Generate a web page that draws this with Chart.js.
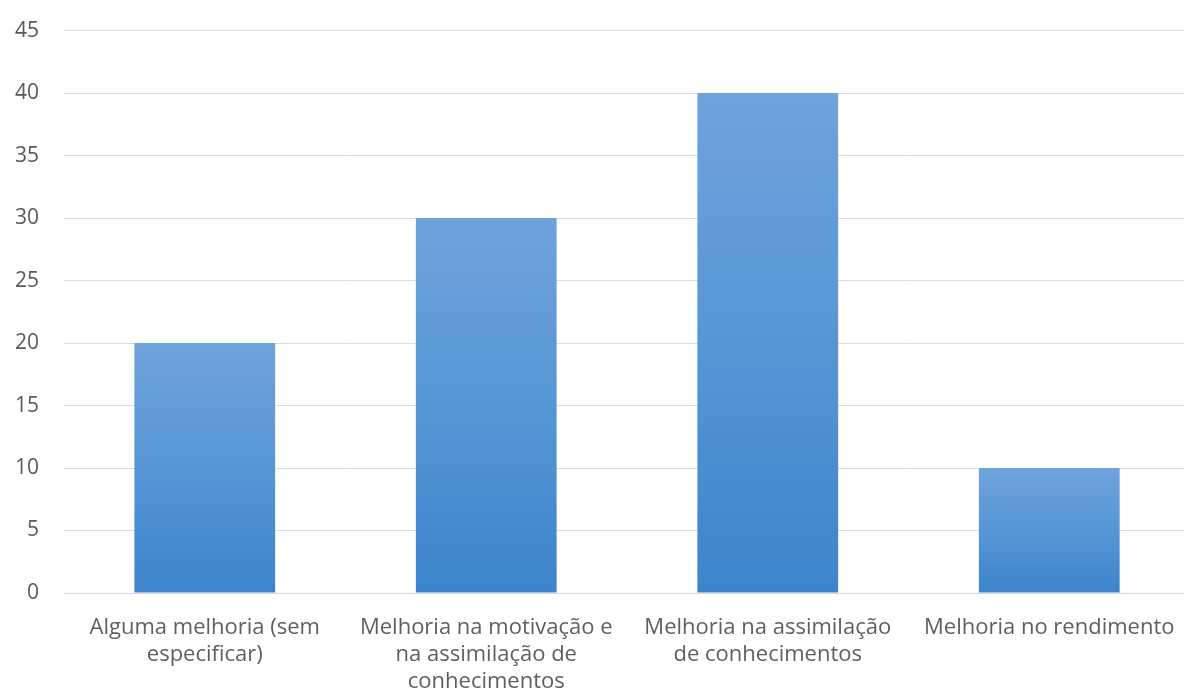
<!DOCTYPE html>
<html>
<head>
<meta charset="utf-8">
<script src="https://cdn.jsdelivr.net/npm/chart.js"></script>
<style>
  html, body { margin: 0; padding: 0; background: #fff; overflow: hidden; }
  #wrap { width: 1207px; height: 715px; position: relative; left: -10px; top: -7px; }
</style>
</head>
<body>
<div id="wrap"><canvas id="barChart"></canvas></div>
<script>
const categories = [
  ['Alguma melhoria (sem', 'especificar)'],
  ['Melhoria na motivação e', 'na assimilação de', 'conhecimentos'],
  ['Melhoria na assimilação', 'de conhecimentos'],
  ['Melhoria no rendimento']
];
const values = [20, 30, 40, 10];
const yTicks = { min: 0, max: 45, step: 5 };

// gradiente por barra, do valor até o zero
function barGradient(context) {
  const chart = context.chart;
  const { chartArea, scales } = chart;
  if (!chartArea) return '#5594d3';
  const top = scales.y.getPixelForValue(context.raw);
  const bottom = scales.y.getPixelForValue(0);
  const g = chart.ctx.createLinearGradient(0, top, 0, bottom);
  g.addColorStop(0, '#6fa3db');
  g.addColorStop(0.5, '#5696d5');
  g.addColorStop(1, '#3d84cb');
  return g;
}

const ctx = document.getElementById('barChart').getContext('2d');
const barChart = new Chart(ctx, {
  type: 'bar',
  data: {
    labels: categories,
    datasets: [{
      data: values,
      backgroundColor: barGradient,
      borderWidth: 0,
      categoryPercentage: 1,
      barPercentage: 0.5
    }]
  },
  options: {
    responsive: true,
    maintainAspectRatio: false,
    animation: false,
    layout: { padding: { top: 12, left: 0, right: 7, bottom: 0 } },
    plugins: {
      legend: { display: false },
      tooltip: { enabled: false }
    },
    scales: {
      y: {
        min: yTicks.min,
        max: yTicks.max,
        ticks: {
          stepSize: yTicks.step,
          color: '#595959',
          font: { family: 'Open Sans', size: 21 },
          padding: 25
        },
        grid: { color: '#dcdcdc', lineWidth: 1, drawTicks: false },
        border: { display: false }
      },
      x: {
        ticks: {
          color: '#5f5f5f',
          font: { family: 'Open Sans', size: 22, lineHeight: '27px' },
          padding: 13,
          maxRotation: 0,
          autoSkip: false
        },
        grid: { display: false },
        border: { color: '#d9d9d9' }
      }
    }
  }
});
</script>
</body>
</html>
